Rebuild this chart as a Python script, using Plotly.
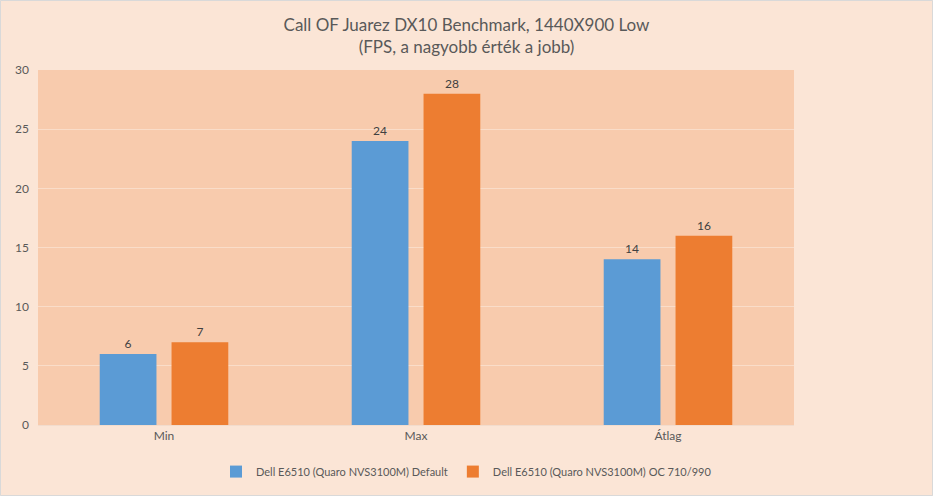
import plotly.graph_objects as go

categories = ["Min", "Max", "Átlag"]
series_names = ["Dell E6510 (Quaro NVS3100M) Default", "Dell E6510 (Quaro NVS3100M) OC 710/990"]
default_vals = [6, 24, 14]
oc_vals = [7, 28, 16]
colors = ["#5B9BD5", "#ED7D31"]

FONT = "Lato, Open Sans, sans-serif"

L, R, T, B = 38, 139, 70, 71
PW, PH = 933 - L - R, 496 - T - B

fig = go.Figure()
for name, vals, col in zip(series_names, [default_vals, oc_vals], colors):
    fig.add_trace(go.Bar(
        x=categories, y=vals, name=name, marker=dict(color=col, line=dict(width=0)),
        text=[str(v) for v in vals], textposition="outside",
        textfont=dict(size=12, color="#404040", family=FONT), cliponaxis=False,
    ))

fig.update_layout(
    width=933, height=496,
    paper_bgcolor="#FBE5D6", plot_bgcolor="#F8CBAD",
    margin=dict(l=L, r=R, t=T, b=B, autoexpand=False),
    barmode="group", bargap=0.43, bargroupgap=0.21,
    title=dict(text="Call OF Juarez DX10 Benchmark, 1440X900 Low<br>(FPS, a nagyobb érték a jobb)",
               x=0.5, xanchor="center", y=1 - 31 / 496, yanchor="top", yref="container",
               font=dict(size=17, color="#595959", family=FONT)),
    font=dict(family=FONT, color="#595959", size=12),
    showlegend=True,
    legend=dict(orientation="h", x=0.5, xanchor="center", xref="container",
                y=0.02, yanchor="bottom", yref="container",
                font=dict(size=11, color="#595959", family=FONT), itemwidth=30,
                traceorder="normal", bgcolor="rgba(0,0,0,0)"),
    xaxis=dict(showgrid=False, showline=True, linecolor="#F2DCCD", ticks="", automargin=False,
               tickfont=dict(size=12, color="#595959")),
    yaxis=dict(range=[0, 30], dtick=5, showgrid=True, gridcolor="#FADDC9", gridwidth=1,
               zeroline=False, showline=False, ticks="", automargin=False, ticklabelstandoff=8,
               tickfont=dict(size=12, color="#595959")),
    shapes=[dict(type="rect", xref="paper", yref="paper",
                 x0=(0.5 - L) / PW, x1=(933 - 0.5 - L) / PW,
                 y0=(-B + 0.5) / PH, y1=(496 - B - 0.5) / PH,
                 line=dict(color="#D9D9D9", width=1),
                 fillcolor="rgba(0,0,0,0)", layer="above")],
)

fig.write_html("out.html", config={"displayModeBar": False},
               post_script="document.body.style.margin='0';document.body.style.padding='0';document.body.style.overflow='hidden';")
